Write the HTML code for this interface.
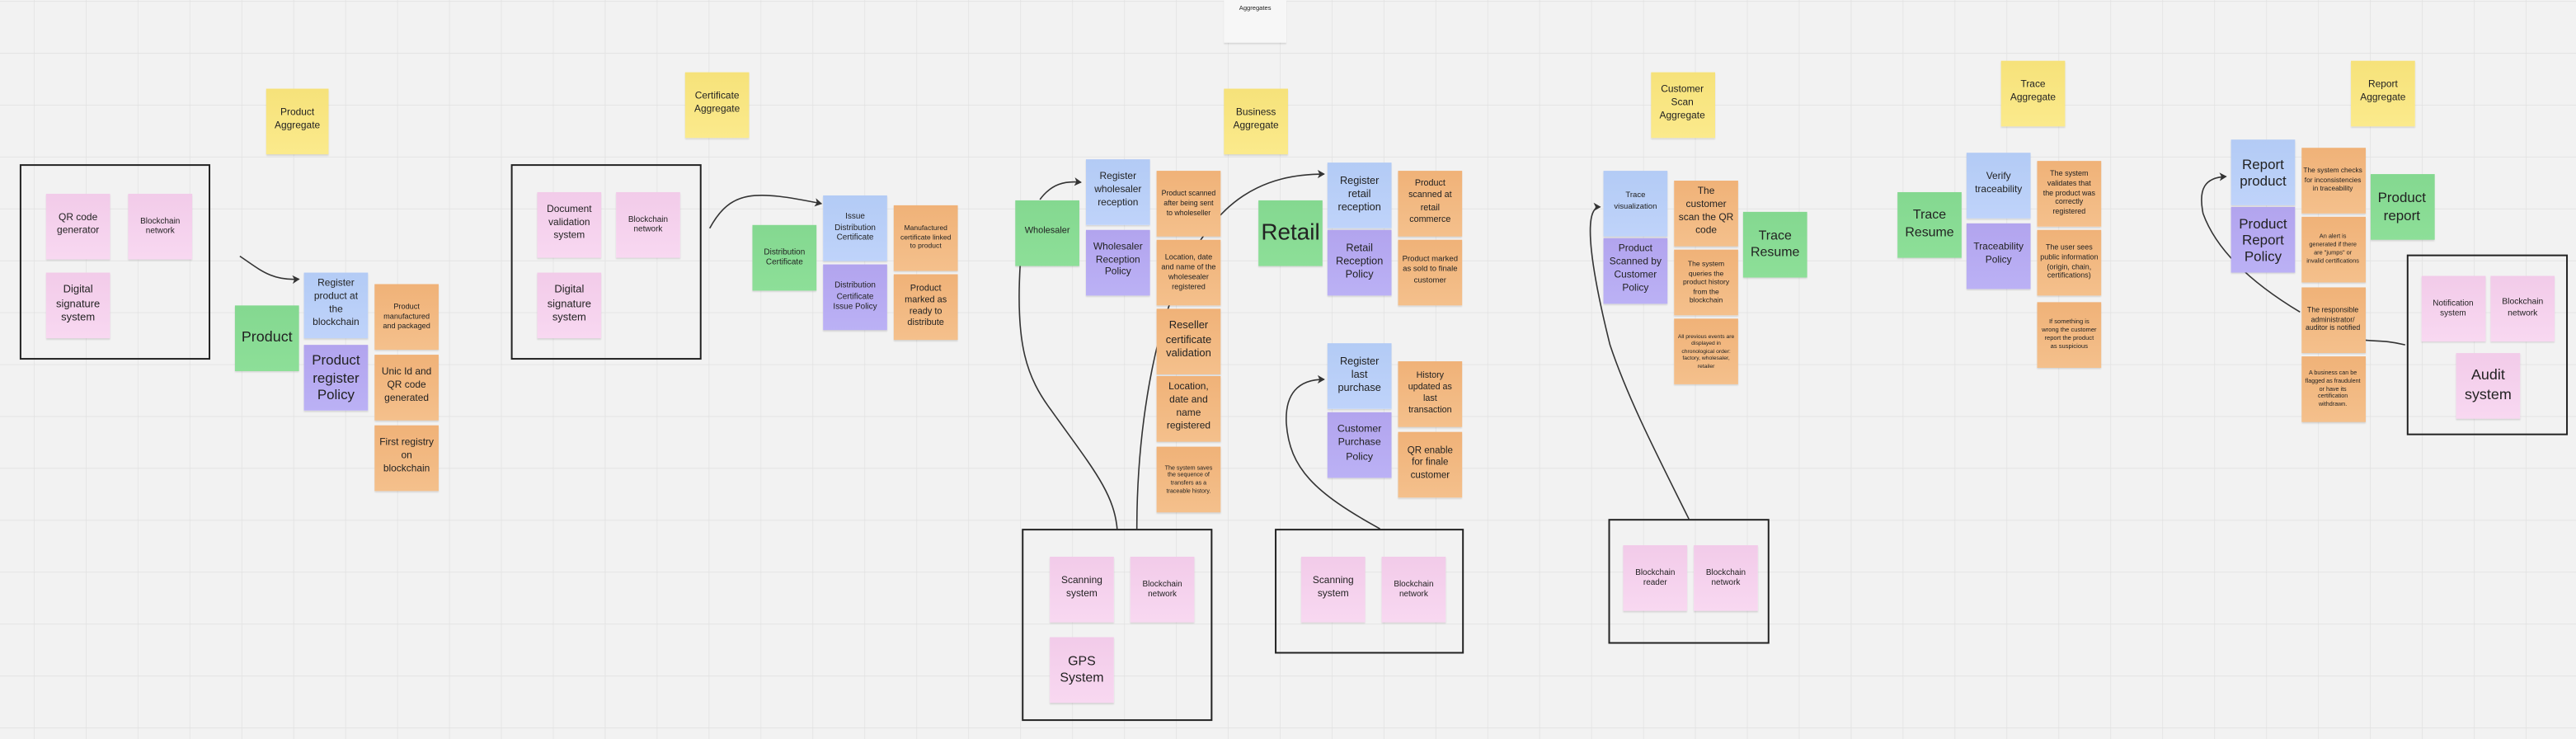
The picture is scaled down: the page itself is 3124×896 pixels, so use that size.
<!DOCTYPE html>
<html><head><meta charset="utf-8">
<style>
html,body{margin:0;padding:0;background:#f2f2f2;}
body{width:3124px;height:896px;overflow:hidden;position:relative;}
#w{position:absolute;left:0;top:0;width:1568px;height:450px;transform-origin:0 0;transform:scale(1.99235,1.99111);font-family:"Liberation Sans","DejaVu Sans",sans-serif;color:#222;}
.n{position:absolute;width:39px;height:40px;display:flex;align-items:center;justify-content:center;text-align:center;font-size:6px;line-height:1.3;box-shadow:0 0.8px 0.8px rgba(0,0,0,0.12);box-sizing:border-box;padding:1px 2.5px;}
.y{background:linear-gradient(#f6e27a,#fbea8c);}
.b{background:linear-gradient(#b3cbf5,#bfd3fa);}
.p{background:linear-gradient(#b2a4ee,#bbb1f5);}
.o{background:linear-gradient(#f0b278,#f4c08c);}
.g{background:linear-gradient(#84d890,#8ddf98);}
.k{background:linear-gradient(#f2cbe9,#f8d8f1);}
.box{position:absolute;border:1px solid #222;box-sizing:border-box;}
svg{position:absolute;left:0;top:0;}
</style></head><body>
<div id="w">
<svg width="1568" height="450" viewBox="0 0 1568 450">
<defs>
<pattern id="gm" x="20.6" y="0.6" width="31.6" height="31.6" patternUnits="userSpaceOnUse">
<path d="M0 0V31.6M0 0H31.6" stroke="#e0e0e0" stroke-width="0.7" fill="none"/>
</pattern>
<marker id="ah" markerWidth="6" markerHeight="6" refX="4" refY="3" orient="auto" markerUnits="userSpaceOnUse">
<path d="M0,0.4 L4.5,3 L0,5.6 L1.2,3 Z" fill="#333"/>
</marker>
</defs>
<rect width="1568" height="450" fill="url(#gm)"/>
<g fill="none" stroke="#333" stroke-width="0.8">
<path d="M146,156 C158,164 165,171 182,170" marker-end="url(#ah)"/>
<path d="M432,139 C445,115 460,116 500,124" marker-end="url(#ah)"/>
<path d="M633,121.5 C640,112 648,110 658,111" marker-end="url(#ah)"/>
<path d="M621,161 C618,210 625,230 640,250 C665,285 678,300 680,322"/>
<path d="M692,322 C692,270 700,210 718,170 C740,120 770,106 806,106" marker-end="url(#ah)"/>
<path d="M840,322 C800,300 785,285 783,258 C782,240 790,231 806,231" marker-end="url(#ah)"/>
<path d="M1028,316 C1005,270 990,240 980,210 C970,170 962,126 974,126" marker-end="url(#ah)"/>
<path d="M1464,210 C1452,207 1446,208 1439,207"/>
<path d="M1400,190 C1375,175 1350,155 1341,130 C1338,115 1342,108 1355,107.5" marker-end="url(#ah)"/>
</g>
</svg>

<div class="n" style="left:745px;top:0;width:38px;height:26px;background:#f7f7f7;font-size:3.8px;align-items:flex-start;padding-top:3px;">Aggregates</div>

<!-- Product -->
<div class="n y" style="left:162px;top:54px;width:38px;">Product Aggregate</div>
<div class="box" style="left:12px;top:100px;width:116px;height:119px;"></div>
<div class="n k" style="left:28px;top:118px;">QR code generator</div>
<div class="n k" style="left:78px;top:118px;font-size:5px;">Blockchain network</div>
<div class="n k" style="left:28px;top:166px;font-size:6.5px;">Digital signature system</div>
<div class="n g" style="left:143px;top:186px;font-size:9px;">Product</div>
<div class="n b" style="left:185px;top:166px;">Register product at the blockchain</div>
<div class="n p" style="left:185px;top:210px;font-size:8.5px;line-height:1.25;">Product register Policy</div>
<div class="n o" style="left:228px;top:173px;font-size:4.6px;">Product manufactured and packaged</div>
<div class="n o" style="left:228px;top:216px;">Unic Id and QR code generated</div>
<div class="n o" style="left:228px;top:259px;">First registry on blockchain</div>

<!-- Certificate -->
<div class="n y" style="left:417px;top:44px;">Certificate Aggregate</div>
<div class="box" style="left:311px;top:100px;width:116px;height:119px;"></div>
<div class="n k" style="left:327px;top:117px;">Document validation system</div>
<div class="n k" style="left:375px;top:117px;font-size:5px;">Blockchain network</div>
<div class="n k" style="left:327px;top:166px;font-size:6.5px;">Digital signature system</div>
<div class="n g" style="left:458px;top:137px;font-size:5px;">Distribution Certificate</div>
<div class="n b" style="left:501px;top:119px;font-size:5px;">Issue Distribution Certificate</div>
<div class="n p" style="left:501px;top:161px;font-size:5px;">Distribution Certificate Issue Policy</div>
<div class="n o" style="left:544px;top:124.5px;font-size:4.3px;">Manufactured certificate linked to product</div>
<div class="n o" style="left:544px;top:167px;font-size:5.5px;">Product marked as ready to distribute</div>

<!-- Business -->
<div class="n y" style="left:745px;top:54px;">Business Aggregate</div>
<div class="n g" style="left:618px;top:121.5px;font-size:5.5px;">Wholesaler</div>
<div class="n b" style="left:661px;top:97px;">Register wholesaler reception</div>
<div class="n p" style="left:661px;top:139.5px;">Wholesaler Reception Policy</div>
<div class="n o" style="left:704px;top:104px;font-size:4.4px;">Product scanned after being sent to wholeseller</div>
<div class="n o" style="left:704px;top:146px;font-size:4.6px;">Location, date and name of the wholesealer registered</div>
<div class="n o" style="left:704px;top:188px;font-size:6.5px;">Reseller certificate validation</div>
<div class="n o" style="left:704px;top:229px;">Location, date and name registered</div>
<div class="n o" style="left:704px;top:272px;font-size:3.6px;">The system saves the sequence of transfers as a traceable history.</div>
<div class="n g" style="left:766px;top:121.5px;font-size:14px;">Retail</div>
<div class="n b" style="left:808px;top:99px;font-size:6.4px;">Register retail reception</div>
<div class="n p" style="left:808px;top:140px;font-size:6.4px;">Retail Reception Policy</div>
<div class="n o" style="left:851px;top:103.5px;font-size:5.4px;">Product scanned at retail commerce</div>
<div class="n o" style="left:851px;top:145.5px;font-size:4.8px;">Product marked as sold to finale customer</div>
<div class="n b" style="left:808px;top:209px;font-size:6.4px;">Register last purchase</div>
<div class="n p" style="left:808px;top:250.5px;font-size:6.2px;">Customer Purchase Policy</div>
<div class="n o" style="left:851px;top:220px;font-size:5.4px;">History updated as last transaction</div>
<div class="n o" style="left:851px;top:263px;font-size:5.8px;">QR enable for finale customer</div>
<div class="box" style="left:622px;top:322px;width:116px;height:117px;"></div>
<div class="n k" style="left:639px;top:339px;">Scanning system</div>
<div class="n k" style="left:688px;top:339px;font-size:5px;">Blockchain network</div>
<div class="n k" style="left:639px;top:388px;font-size:8px;">GPS System</div>
<div class="box" style="left:776px;top:322px;width:115px;height:76px;"></div>
<div class="n k" style="left:792px;top:339px;">Scanning system</div>
<div class="n k" style="left:841px;top:339px;font-size:5px;">Blockchain network</div>

<!-- Customer scan -->
<div class="n y" style="left:1004.5px;top:44px;">Customer Scan Aggregate</div>
<div class="n b" style="left:976px;top:103.5px;font-size:4.8px;">Trace visualization</div>
<div class="n p" style="left:976px;top:145px;">Product Scanned by Customer Policy</div>
<div class="n o" style="left:1019px;top:110px;">The customer scan the QR code</div>
<div class="n o" style="left:1019px;top:152px;font-size:4.3px;">The system queries the product history from the blockchain</div>
<div class="n o" style="left:1019px;top:194px;font-size:3.4px;padding:1px;">All previous events are displayed in chronological order: factory, wholesaler, retailer</div>
<div class="n g" style="left:1061px;top:129px;font-size:8px;">Trace Resume</div>
<div class="box" style="left:979px;top:316px;width:98px;height:76px;"></div>
<div class="n k" style="left:988px;top:332px;font-size:5px;">Blockchain reader</div>
<div class="n k" style="left:1031px;top:332px;font-size:5px;">Blockchain network</div>

<!-- Trace -->
<div class="n y" style="left:1218px;top:36.6px;">Trace Aggregate</div>
<div class="n g" style="left:1155px;top:116.5px;font-size:8px;">Trace Resume</div>
<div class="n b" style="left:1197px;top:93px;">Verify traceability</div>
<div class="n p" style="left:1197px;top:135.5px;">Traceability Policy</div>
<div class="n o" style="left:1240px;top:97.5px;font-size:4.5px;">The system validates that the product was correctly registered</div>
<div class="n o" style="left:1240px;top:139.5px;font-size:4.5px;padding:1px;">The user sees public information (origin, chain, certifications)</div>
<div class="n o" style="left:1240px;top:184px;font-size:3.8px;">If something is wrong the customer report the product as suspicious</div>

<!-- Report -->
<div class="n y" style="left:1431px;top:36.6px;">Report Aggregate</div>
<div class="n b" style="left:1358px;top:85px;font-size:8.5px;line-height:1.2;padding:1px;">Report product</div>
<div class="n p" style="left:1358px;top:126px;font-size:8.5px;line-height:1.2;padding:1px;">Product Report Policy</div>
<div class="n o" style="left:1400.5px;top:89.5px;font-size:4.2px;padding:1px;">The system checks for inconsistencies in traceability</div>
<div class="n o" style="left:1400.5px;top:132px;font-size:3.7px;">An alert is generated if there are "jumps" or invalid certifications</div>
<div class="n o" style="left:1400.5px;top:174.5px;font-size:4.4px;padding:1px;">The responsible administrator/ auditor is notified</div>
<div class="n o" style="left:1400.5px;top:217px;font-size:3.6px;">A business can be flagged as fraudulent or have its certification withdrawn.</div>
<div class="n g" style="left:1442.5px;top:105.5px;font-size:8.5px;line-height:1.2;padding:1px;">Product report</div>
<div class="box" style="left:1464.7px;top:154.6px;width:98.5px;height:110.5px;"></div>
<div class="n k" style="left:1473.7px;top:168px;font-size:5px;">Notification system</div>
<div class="n k" style="left:1516px;top:168px;font-size:5.2px;">Blockchain network</div>
<div class="n k" style="left:1495px;top:215px;font-size:9px;line-height:1.3;padding:1px;">Audit system</div>
</div>
</body></html>
